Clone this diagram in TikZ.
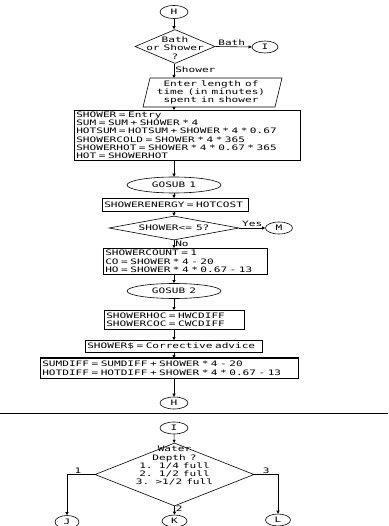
\documentclass[tikz,border=0pt]{standalone}
\usepackage{fontspec}
\newfontfamily\plotfont[FakeStretch=1.48,WordSpace=0.6]{DejaVu Sans Mono}
\usetikzlibrary{shapes.geometric,arrows.meta}
\begin{document}
\begin{tikzpicture}[x=1pt,y=-1pt,
  lw/.style={line width=0.6pt},
  pf/.style={font=\plotfont\fontsize{7.5}{8.3}\selectfont},
  term/.style={draw,lw,ellipse,inner sep=0pt,pf},
  proc/.style={draw,lw,rectangle,inner xsep=2pt,inner ysep=0pt,anchor=north west,align=left,pf},
  dia/.style={draw,lw,diamond,inner sep=0pt},
  txt/.style={inner sep=0pt,pf,align=center},
  arr/.style={lw,-{Triangle[length=3pt,width=3pt]}},
  lab/.style={inner sep=1pt,pf}
]
\useasboundingbox (0,0) rectangle (388,526);
\clip (0,0) rectangle (388,526);
\fill[white] (0,0) rectangle (388,526);

% top part
\node[term,minimum width=28pt,minimum height=13pt] (h1) at (174,12) {H};
\node[dia,minimum width=80pt,minimum height=34pt] (d1) at (175,46.5) {};
\node[txt] (d1t) at (175,48) {Bath\\or Shower\\?};
\node[term,minimum width=26pt,minimum height=12pt] (i1) at (265,47) {I};
\coordinate (pTL) at (150,78);
\coordinate (pTR) at (282,78);
\coordinate (pBR) at (275,107);
\coordinate (pBL) at (143,107);
\draw[lw] (pTL) -- (pTR) -- (pBR) -- (pBL) -- cycle;
\node[txt] (pat) at (211,92.5) {Enter length of\\time (in minutes)\\spent in shower};
\node[proc,text width=222pt,minimum height=50pt] (b1) at (74,110) {SHOWER = Entry\\SUM = SUM + SHOWER * 4\\HOTSUM = HOTSUM + SHOWER * 4 * 0.67\\SHOWERCOLD = SHOWER * 4 * 365\\SHOWERHOT = SHOWER * 4 * 0.67 * 365\\HOT = SHOWERHOT};
\node[term,minimum width=94pt,minimum height=16pt] (g1) at (174,185) {GOSUB 1};
\node[proc,text width=142pt,minimum height=13pt] (en) at (102,198) {SHOWERENERGY = HOTCOST};
\node[dia,minimum width=130pt,minimum height=24pt] (d2) at (174,228) {};
\node[txt] (d2t) at (174,227.5) {SHOWER<= 5?};
\node[term,minimum width=27pt,minimum height=12pt] (m) at (279,228) {M};
\node[proc,text width=160pt,minimum height=26pt] (cnt) at (103,248) {SHOWERCOUNT = 1\\CO = SHOWER * 4 - 20\\HO = SHOWER * 4 * 0.67 - 13};
\node[term,minimum width=94pt,minimum height=15pt] (g2) at (174,291) {GOSUB 2};
\node[proc,text width=136pt,minimum height=19pt] (hoc) at (104,310) {SHOWERHOC = HWCDIFF\\SHOWERCOC = CWCDIFF};
\node[proc,text width=173pt,minimum height=12pt] (adv) at (85,340) {SHOWER\$ = Corrective advice};
\node[proc,text width=254pt,minimum height=20pt] (dif) at (40,358) {SUMDIFF = SUMDIFF + SHOWER * 4 - 20\\HOTDIFF = HOTDIFF + SHOWER * 4 * 0.67 - 13};
\draw[line width=1.1pt] (dif.north west) -- (dif.north east);
\node[term,minimum width=28pt,minimum height=12pt] (h2) at (174,403) {H};

% separator
\coordinate (sl) at (0,413);
\coordinate (sr) at (388,413);
\draw[line width=0.9pt] (sl) -- (sr);

% bottom part
\node[term,minimum width=28pt,minimum height=12pt] (i2) at (174,428) {I};
\node[dia,minimum width=159pt,minimum height=63pt] (d3) at (174.5,474.5) {};
\node[txt] (d3t) at (174.5,466) {Water\\Depth ?\\1. 1/4 full\\2. 1/2 full\\3. >1/2 full};
\node[term,minimum width=24pt,minimum height=13pt] (j) at (67,522) {J};
\node[term,minimum width=25pt,minimum height=12pt] (k) at (174.5,521) {K};
\node[term,minimum width=25pt,minimum height=12pt] (l) at (278,520) {L};

% connectors
\draw[arr] (h1) -- (h1 |- d1.north);
\draw[arr] (d1.east) -- (i1.west) node[lab,pos=0.45,above] {Bath};
\draw[arr] (h1 |- d1.south) -- (h1 |- pTL) node[lab,pos=0.4,right] {Shower};
\draw[arr] (h1 |- pBL) -- (h1 |- b1.north);
\draw[arr] (h1 |- b1.south) -- (g1);
\draw[arr] (g1) -- (h1 |- en.north);
\draw[arr] (h1 |- en.south) -- (d2);
\draw[arr] (d2.east) -- (m.west) node[lab,pos=0.5,above] {Yes};
\draw[arr] (d2.south) -- (h1 |- cnt.north) node[lab,pos=0.4,right] {No};
\draw[arr] (h1 |- cnt.south) -- (g2);
\draw[arr] (g2) -- (h1 |- hoc.north);
\draw[arr] (h1 |- hoc.south) -- (h1 |- adv.north);
\draw[arr] (h1 |- adv.south) -- (h1 |- dif.north);
\draw[arr] (h1 |- dif.south) -- (h2);
\draw[arr] (i2) -- (d3);
\draw[arr] (d3.west) -| (j) node[lab,pos=0.3,above] {1};
\draw[arr] (d3.east) -| (l) node[lab,pos=0.25,above] {3};
\draw[arr] (d3.south) -- (k) node[lab,pos=0.3,right] {2};
\end{tikzpicture}
\end{document}
